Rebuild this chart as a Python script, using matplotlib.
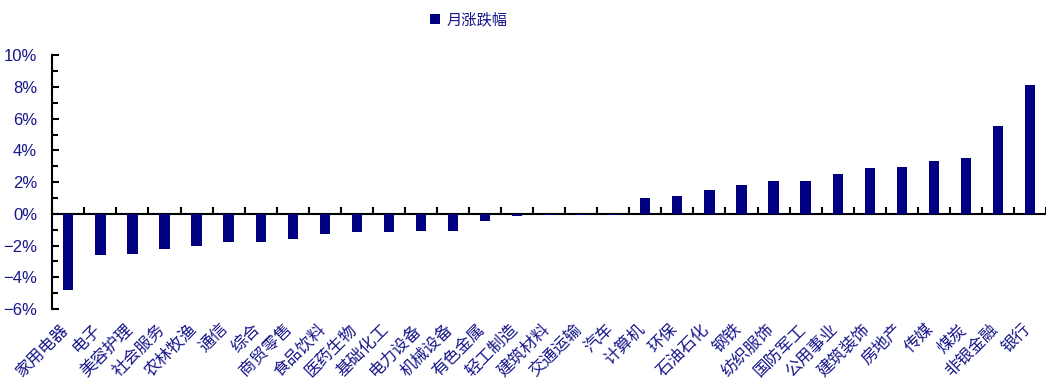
import numpy as np
import matplotlib.pyplot as plt
from matplotlib.ticker import MultipleLocator, FuncFormatter
from matplotlib.transforms import ScaledTranslation

plt.rcParams['font.family'] = ['Noto Sans CJK SC', 'DejaVu Sans']

# 申万一级行业月涨跌幅（%）
industries = ['家用电器', '电子', '美容护理', '社会服务', '农林牧渔', '通信', '综合',
              '商贸零售', '食品饮料', '医药生物', '基础化工', '电力设备', '机械设备',
              '有色金属', '轻工制造', '建筑材料', '交通运输', '汽车', '计算机', '环保',
              '石油石化', '钢铁', '纺织服饰', '国防军工', '公用事业', '建筑装饰',
              '房地产', '传媒', '煤炭', '非银金融', '银行']
monthly_chg = [-4.8, -2.6, -2.5, -2.2, -2.0, -1.8, -1.8,
               -1.6, -1.3, -1.15, -1.15, -1.05, -1.05,
               -0.45, -0.15, -0.06, -0.05, -0.05, 1.0, 1.1,
               1.5, 1.8, 2.05, 2.1, 2.5, 2.9,
               2.95, 3.3, 3.5, 5.55, 8.1]

navy = '#000080'
label_color = '#16168a'

fig = plt.figure(figsize=(10.46, 3.83), dpi=100)
ax = fig.add_axes([0.050, 0.193, 0.950, 0.663])

x = np.arange(len(industries))
ax.bar(x, monthly_chg, width=0.32, color=navy, label='月涨跌幅', zorder=3)

ax.set_xlim(-0.5, len(industries) - 0.5)
ax.set_ylim(-6, 10)

# 坐标轴：横轴放在0处，刻度朝内
for s in ['top', 'right']:
    ax.spines[s].set_visible(False)
ax.spines['bottom'].set_position(('data', 0))
ax.spines['bottom'].set_linewidth(1.5)
ax.spines['left'].set_linewidth(1.5)

ax.yaxis.set_major_locator(MultipleLocator(2))
ax.yaxis.set_minor_locator(MultipleLocator(1))
ax.yaxis.set_major_formatter(FuncFormatter(lambda v, p: f'{v:.0f}%'.replace('-', '\u2212')))
ax.tick_params(axis='y', which='both', direction='in', width=1.5, colors='black',
               labelcolor=label_color, labelsize=12, pad=11)
ax.tick_params(axis='y', which='major', length=5)
ax.tick_params(axis='y', which='minor', length=4)
for t in ax.get_yticklabels():
    t.set_family(['Liberation Sans', 'DejaVu Sans'])

ax.set_xticks(x)
ax.set_xticklabels(industries, rotation=45, ha='right', va='top',
                   rotation_mode='anchor', color=label_color, fontsize=12)
ax.set_xticks(np.arange(-0.5, len(industries), 1), minor=True)
ax.tick_params(axis='x', which='major', length=0, pad=77)
ax.tick_params(axis='x', which='minor', direction='in', length=5, width=1.5)
shift = ScaledTranslation(-6 / 72, 0, fig.dpi_scale_trans)
for t in ax.get_xticklabels():
    t.set_transform(t.get_transform() + shift)

fig.legend(loc='center', bbox_to_anchor=(0.448, 0.948), frameon=False,
           fontsize=11, handlelength=0.7, handleheight=0.7, handletextpad=0.4,
           labelcolor=label_color)

fig.savefig('out.png', dpi=100)
